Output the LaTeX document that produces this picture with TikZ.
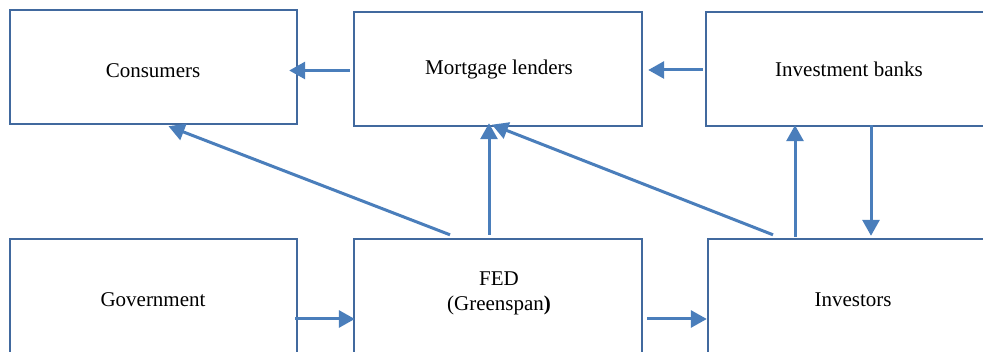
\documentclass[tikz,border=0pt]{standalone}
\usepackage{fontspec}
\setmainfont{Liberation Serif}
\usetikzlibrary{arrows.meta,calc}
\definecolor{boxc}{HTML}{41699E}
\definecolor{arrc}{HTML}{4A7EBB}
\tikzset{
  box/.style={draw=boxc, line width=2.4pt, rectangle, inner sep=0pt},
  lbl/.style={font=\fontsize{21}{25}\selectfont, inner sep=0pt, align=center},
  arr/.style={draw=arrc, line width=3pt, -{Triangle[length=16pt,width=17pt]}}
}
\begin{document}
\begin{tikzpicture}[x=1pt,y=-1pt]
\useasboundingbox (0,0) rectangle (983,352);
\clip (0,0) rectangle (983,352);
% boxes
\node[box, minimum width=287pt, minimum height=114pt] (con) at (153.5,67) {};
\node[box, minimum width=288pt, minimum height=114pt] (ml) at (498,69) {};
\node[box, minimum width=286pt, minimum height=114pt] (ib) at (849,69) {};
\node[box, minimum width=287pt, minimum height=122pt] (gov) at (153.5,300) {};
\node[box, minimum width=288pt, minimum height=122pt] (fed) at (498,300) {};
\node[box, minimum width=290pt, minimum height=122pt] (inv) at (853,300) {};
% labels
\node[lbl] (conT) at (153,71) {Consumers};
\node[lbl] (mlT) at (499,69) {Mortgage lenders};
\node[lbl] (ibT) at (849,69) {Investment banks};
\node[lbl] (govT) at (153,300) {Government};
\node[lbl] (fedT) at (499,293.5) {FED\\(Greenspan\textbf{)}};
\node[lbl] (invT) at (853,300) {Investors};
% connectors
\draw[arr] ($(ml.west)+(-3,1.5)$) -- ($(con.east)+(-9,3.5)$);
\draw[arr] ($(ib.west)+(-2,1)$) -- ($(ml.east)+(5,1)$);
\draw[arr] ($(fed.north)+(-48,-3)$) -- ($(con.south)+(15,1)$);
\draw[arr] ($(fed.north)+(-9,-3)$) -- ($(ml.south)+(-9,-4)$);
\draw[arr] ($(inv.north)+(-80,-3)$) -- ($(ml.south)+(-6,-2.5)$);
\draw[arr] ($(inv.north)+(-58,-1)$) -- ($(ib.south)+(-54,-2)$);
\draw[arr] ($(ib.south)+(22,-2)$) -- ($(inv.north)+(18,-2)$);
\draw[arr] ($(gov.east)+(-3,19)$) -- ($(fed.west)+(2,19)$);
\draw[arr] ($(fed.east)+(4,19)$) -- ($(inv.west)+(0,19)$);
\end{tikzpicture}
\end{document}
